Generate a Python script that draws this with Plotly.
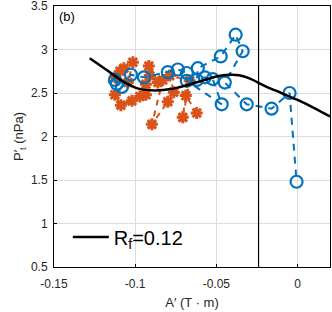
import plotly.graph_objects as go

# Black model curve
curve_x = [-0.128, -0.118, -0.108, -0.098, -0.088, -0.078, -0.068, -0.058, -0.050, -0.042, -0.036, -0.030, -0.020, -0.010, 0.0, 0.010, 0.020]
curve_y = [2.90, 2.77, 2.64, 2.55, 2.53, 2.545, 2.59, 2.645, 2.69, 2.71, 2.705, 2.67, 2.58, 2.50, 2.42, 2.33, 2.23]

# Blue series (circles)
blue_x = [-0.1113, -0.1125, -0.1082, -0.1026, -0.0946, -0.0799, -0.0737, -0.0682, -0.0682, -0.0467, -0.0522, -0.0571, -0.0620, -0.0614, -0.0473, -0.0381, -0.0338, -0.0448, -0.0313, -0.0160, -0.0049, -0.0006]
blue_y = [2.605, 2.65, 2.57, 2.71, 2.68, 2.74, 2.77, 2.73, 2.64, 2.37, 2.66, 2.68, 2.65, 2.785, 2.92, 3.17, 2.98, 2.62, 2.37, 2.32, 2.50, 1.48]

# Orange series (stars)
orange_x = [-0.1125, -0.1094, -0.1070, -0.1014, -0.1045, -0.1125, -0.1088, -0.1020, -0.0971, -0.0934, -0.0934, -0.0910, -0.0916, -0.0860, -0.0830, -0.0897, -0.0799, -0.0762, -0.0787, -0.0664, -0.0707, -0.0688, -0.0621]
orange_y = [2.68, 2.75, 2.785, 2.853, 2.62, 2.48, 2.36, 2.41, 2.46, 2.48, 2.60, 2.70, 2.81, 2.62, 2.65, 2.14, 2.40, 2.51, 2.70, 2.64, 2.22, 2.47, 2.27]

vline_x = -0.024
legend_label = "R<sub>f</sub>=0.12"

x_ticks = [-0.15, -0.1, -0.05, 0]
x_tick_text = ["-0.15", "-0.1", "-0.05", "0"]
y_ticks = [0.5, 1, 1.5, 2, 2.5, 3, 3.5]
y_tick_text = ["0.5", "1", "1.5", "2", "2.5", "3", "3.5"]

BLUE = "#0072BD"
ORANGE = "#D95319"

fig = go.Figure()
fig.add_trace(go.Scatter(
    x=orange_x, y=orange_y, mode="lines+markers", showlegend=False,
    line=dict(color=ORANGE, width=2, dash="6px,5px"),
    marker=dict(symbol="asterisk-open", size=10, color=ORANGE,
                line=dict(color=ORANGE, width=3)),
))
fig.add_trace(go.Scatter(
    x=blue_x, y=blue_y, mode="lines+markers", showlegend=False,
    line=dict(color=BLUE, width=2, dash="7px,6px"),
    marker=dict(symbol="circle-open", size=12, color=BLUE,
                line=dict(color=BLUE, width=2.2)),
))
fig.add_trace(go.Scatter(
    x=curve_x, y=curve_y, mode="lines", name=legend_label,
    line=dict(color="black", width=2.5, shape="spline", smoothing=1.0),
))
fig.add_shape(type="line", xref="x", yref="paper", x0=vline_x, x1=vline_x, y0=0, y1=1,
              line=dict(color="black", width=1.2))
fig.add_annotation(xref="paper", yref="paper", x=0.01, y=0.995, xanchor="left", yanchor="top",
                   text="(b)", showarrow=False, font=dict(size=13, color="black"))

axis_common = dict(showgrid=True, gridcolor="#DCDCDC", gridwidth=1, zeroline=False,
                   showline=True, linecolor="black", linewidth=1, mirror=True,
                   ticks="inside", ticklen=3, tickcolor="black", automargin=False,
                   ticklabeloverflow="allow",
                   tickfont=dict(size=12, color="#262626"))
fig.update_xaxes(range=[-0.15, 0.02], tickvals=x_ticks, ticktext=x_tick_text,
                 ticklabelstandoff=6,
                 title=dict(text="A\u2032 (T \u00b7 m)", font=dict(size=13, color="#262626"), standoff=7),
                 **axis_common)
fig.update_yaxes(range=[0.5, 3.5], tickvals=y_ticks, ticktext=y_tick_text,
                 ticklabelstandoff=3,
                 title=dict(text="P\u2032<sub>t</sub> (nPa)", font=dict(size=13, color="#262626"), standoff=4),
                 **axis_common)
fig.update_layout(
    width=332, height=312,
    margin=dict(l=54, r=2, t=6, b=45),
    plot_bgcolor="white", paper_bgcolor="white",
    font=dict(family="Liberation Sans, Arial, sans-serif", color="#262626"),
    legend=dict(x=0.05, y=0.04, xanchor="left", yanchor="bottom", bgcolor="rgba(0,0,0,0)",
                font=dict(size=20, color="black"), itemwidth=36),
)
fig.write_html("out.html", config={"displayModeBar": False},
               post_script="document.body.style.margin='0';document.body.style.overflow='hidden';")
